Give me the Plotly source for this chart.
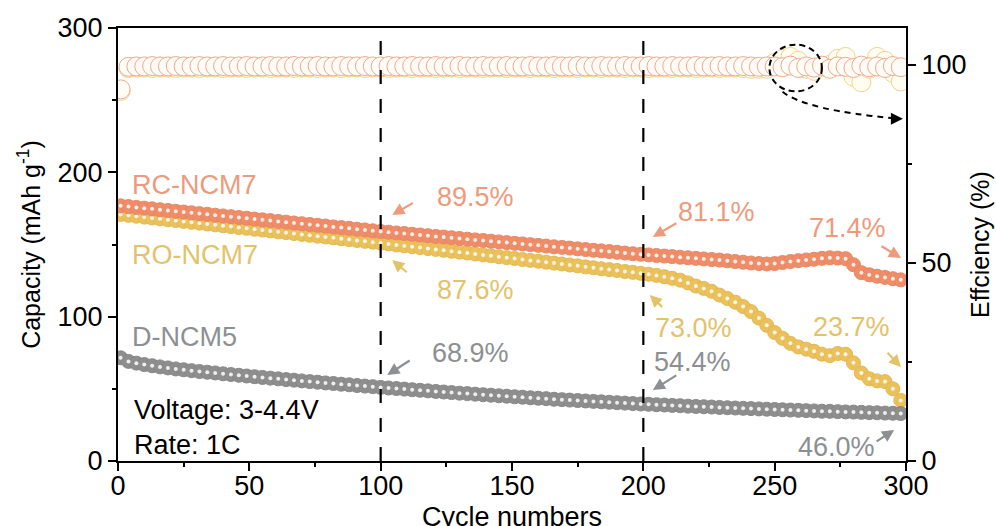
import plotly.graph_objects as go

# ---------------- data ----------------
CYCLES = list(range(1, 300, 3))  # 1, 4, 7, ..., 298

RC_NCM7 = [
    176.8, 176.3, 175.7, 175.2, 174.7, 174.1, 173.6, 173.0, 172.5, 172.0,
    171.4, 170.9, 170.3, 169.8, 169.3, 168.7, 168.2, 167.6, 167.1, 166.6,
    166.0, 165.5, 164.9, 164.4, 163.9, 163.3, 162.8, 162.2, 161.7, 161.2,
    160.6, 160.1, 159.5, 159.0, 158.5, 158.0, 157.6, 157.1, 156.6, 156.1,
    155.6, 155.2, 154.7, 154.2, 153.7, 153.2, 152.8, 152.3, 151.8, 151.3,
    150.8, 150.4, 149.9, 149.4, 148.9, 148.4, 148.0, 147.5, 147.0, 146.5,
    146.0, 145.6, 145.1, 144.6, 144.1, 143.6, 143.2, 142.8, 142.4, 142.0,
    141.6, 141.2, 140.8, 140.4, 140.0, 139.6, 139.2, 138.7, 138.2, 137.7,
    137.2, 136.8, 136.5, 136.8, 137.5, 138.2, 138.8, 139.3, 139.8, 140.4,
    140.8, 140.6, 140.2, 136.0, 130.5, 129.0, 128.0, 127.2, 126.3, 125.5,
]

RO_NCM7 = [
    170.8, 170.2, 169.6, 169.0, 168.4, 167.8, 167.2, 166.6, 166.0, 165.4,
    164.8, 164.2, 163.6, 163.0, 162.4, 161.8, 161.2, 160.6, 160.0, 159.4,
    158.8, 158.2, 157.6, 157.0, 156.4, 155.8, 155.2, 154.6, 154.0, 153.4,
    152.8, 152.2, 151.6, 151.0, 150.4, 149.7, 149.1, 148.5, 147.9, 147.2,
    146.6, 146.0, 145.3, 144.7, 144.1, 143.4, 142.8, 142.2, 141.5, 140.9,
    140.3, 139.6, 139.0, 138.4, 137.7, 137.1, 136.5, 135.8, 135.2, 134.5,
    133.9, 133.2, 132.6, 132.0, 131.3, 130.7, 130.0, 129.4, 128.6, 127.7,
    126.6, 125.3, 123.4, 121.2, 119.6, 117.6, 115.0, 112.6, 110.0, 107.0,
    103.5, 99.0, 94.0, 89.0, 85.0, 81.5, 79.0, 77.5, 76.0, 74.0,
    73.0, 74.5, 74.0, 68.0, 61.0, 57.0, 55.5, 55.0, 50.0, 42.0,
]

D_NCM5 = [
    71.5, 69.0, 67.8, 66.8, 66.0, 65.2, 64.5, 63.8, 63.2, 62.6,
    62.0, 61.5, 61.0, 60.4, 59.9, 59.4, 58.9, 58.4, 57.9, 57.4,
    56.9, 56.4, 56.0, 55.5, 55.0, 54.6, 54.1, 53.7, 53.2, 52.8,
    52.3, 51.9, 51.5, 51.0, 50.6, 50.2, 49.8, 49.4, 49.0, 48.6,
    48.2, 47.8, 47.4, 47.0, 46.7, 46.3, 45.9, 45.6, 45.2, 44.9,
    44.5, 44.2, 43.8, 43.5, 43.2, 42.8, 42.5, 42.2, 41.9, 41.6,
    41.3, 41.0, 40.7, 40.4, 40.1, 39.8, 39.5, 39.3, 39.0, 38.8,
    38.5, 38.3, 38.0, 37.8, 37.6, 37.4, 37.1, 36.9, 36.7, 36.5,
    36.3, 36.1, 35.9, 35.7, 35.5, 35.3, 35.1, 34.9, 34.7, 34.5,
    34.4, 34.2, 34.0, 33.9, 33.7, 33.5, 33.4, 33.2, 33.1, 32.9,
]

EFF_RC = [
    93.8, 99.5, 99.6, 99.6, 99.7, 99.6, 99.6, 99.7, 99.6, 99.6,
    99.7, 99.6, 99.6, 99.7, 99.6, 99.6, 99.7, 99.6, 99.6, 99.7,
    99.6, 99.6, 99.7, 99.6, 99.6, 99.7, 99.6, 99.6, 99.7, 99.6,
    99.6, 99.7, 99.6, 99.6, 99.7, 99.6, 99.6, 99.7, 99.6, 99.6,
    99.7, 99.6, 99.6, 99.7, 99.6, 99.6, 99.7, 99.6, 99.6, 99.7,
    99.6, 99.6, 99.7, 99.6, 99.6, 99.7, 99.6, 99.6, 99.7, 99.6,
    99.6, 99.7, 99.6, 99.6, 99.7, 99.6, 99.6, 99.7, 99.6, 99.6,
    99.7, 99.6, 99.6, 99.7, 99.6, 99.6, 99.7, 99.6, 99.6, 99.7,
    99.6, 99.5, 99.6, 99.6, 99.4, 99.8, 99.2, 99.6, 99.3, 99.8,
    99.0, 99.6, 99.5, 99.2, 99.8, 99.4, 99.6, 99.2, 99.7, 99.4,
]

EFF_RO = [
    93.4, 99.2, 99.3, 99.3, 99.2, 99.3, 99.3, 99.2, 99.3, 99.3,
    99.2, 99.3, 99.3, 99.2, 99.3, 99.3, 99.2, 99.3, 99.3, 99.2,
    99.3, 99.3, 99.2, 99.3, 99.3, 99.2, 99.3, 99.3, 99.2, 99.3,
    99.3, 99.2, 99.3, 99.3, 99.2, 99.3, 99.3, 99.2, 99.3, 99.3,
    99.2, 99.3, 99.3, 99.2, 99.3, 99.3, 99.2, 99.3, 99.3, 99.2,
    99.3, 99.3, 99.2, 99.3, 99.3, 99.2, 99.3, 99.3, 99.2, 99.3,
    99.3, 99.2, 99.3, 99.3, 99.2, 99.3, 99.3, 99.2, 99.3, 99.3,
    99.2, 99.3, 99.3, 99.2, 99.3, 99.3, 99.2, 99.3, 99.3, 99.2,
    99.0, 99.0, 99.0, 100.5, 101.5, 102.0, 101.0, 99.0, 98.5, 99.5,
    100.0, 101.5, 102.0, 97.0, 95.6, 99.0, 102.0, 101.0, 98.0, 95.8,
]

SERIES_LABELS = ["RC-NCM7", "RO-NCM7", "D-NCM5"]
RETENTION_TEXT = ["89.5%", "87.6%", "81.1%", "71.4%", "73.0%", "23.7%",
                  "68.9%", "54.4%", "46.0%"]
X_TICKS = [0, 50, 100, 150, 200, 250, 300]
Y_TICKS = [0, 100, 200, 300]
Y2_TICKS = [0, 50, 100]

# ---------------- styling ----------------
FONT = "Liberation Sans, Arial, sans-serif"
C_RC = "#EF8D69"
C_RC_EDGE = "#EA8562"
C_RO = "#EBC15C"
C_RO_EDGE = "#E4B852"
C_D = "#8E8E8E"
C_D_EDGE = "#878787"
T_RC = "#EE9A7C"
T_RO = "#E3C26A"
T_D = "#8C9092"

fig = go.Figure()

# efficiency (open circles, right axis)
fig.add_trace(go.Scatter(
    x=CYCLES, y=EFF_RO, mode="markers", yaxis="y2",
    marker=dict(symbol="circle", size=19, color="#FFFDF2",
                line=dict(color="#F0D38C", width=1)),
    hoverinfo="skip", showlegend=False))
fig.add_trace(go.Scatter(
    x=CYCLES, y=EFF_RC, mode="markers", yaxis="y2",
    marker=dict(symbol="circle", size=19, color="#FFFBF7",
                line=dict(color="#F0A98C", width=1)),
    hoverinfo="skip", showlegend=False))

# capacities (filled spheres, left axis)
for vals, col, edge in [(RO_NCM7, C_RO, C_RO_EDGE),
                        (RC_NCM7, C_RC, C_RC_EDGE),
                        (D_NCM5, C_D, C_D_EDGE)]:
    fig.add_trace(go.Scatter(
        x=CYCLES, y=vals, mode="markers",
        marker=dict(symbol="circle", size=14, color=col,
                    line=dict(color=edge, width=1)),
        hoverinfo="skip", showlegend=False))
    fig.add_trace(go.Scatter(
        x=CYCLES, y=vals, mode="markers",
        marker=dict(symbol="circle", size=4, color="rgba(255,255,255,0.85)",
                    line=dict(width=0)),
        hoverinfo="skip", showlegend=False))

# ---------------- axes ----------------
axis_common = dict(
    showline=True, linecolor="black", linewidth=2,
    ticks="outside", ticklen=8, tickwidth=2, tickcolor="black",
    tickfont=dict(family=FONT, size=27, color="black"),
    showgrid=False, zeroline=False,
)
fig.update_layout(
    width=996, height=526,
    margin=dict(l=118, r=90, t=28, b=65),
    paper_bgcolor="white", plot_bgcolor="white",
    font=dict(family=FONT, size=27, color="black"),
    xaxis=dict(range=[0, 300], tickvals=X_TICKS, mirror=True,
               ticklabelstandoff=-8,
               minor=dict(tickvals=[25, 75, 125, 175, 225, 275], ticklen=4,
                          tickwidth=2, ticks="outside", tickcolor="black"),
               automargin=False, **axis_common),
    yaxis=dict(range=[0, 300], tickvals=Y_TICKS,
               minor=dict(tickvals=[50, 150, 250], ticklen=4, tickwidth=2,
                          ticks="outside", tickcolor="black"),
               title=dict(text="Capacity (mAh g<sup>-1</sup>)", standoff=10,
                          font=dict(family=FONT, size=25)),
               automargin=False, **axis_common),
    yaxis2=dict(range=[0, 109.3], tickvals=Y2_TICKS, overlaying="y",
                side="right", anchor="x",
                minor=dict(tickvals=[25, 75], ticklen=4, tickwidth=2,
                           ticks="outside", tickcolor="black"),
                title=dict(text="Effciency (%)", standoff=6,
                           font=dict(family=FONT, size=25)),
                automargin=False, **axis_common),
    showlegend=False,
)

# x-axis title (placed explicitly, partially cut at the bottom like the original)
fig.add_annotation(x=0.5, y=-0.13, xref="paper", yref="paper",
                   text="Cycle numbers", showarrow=False,
                   xanchor="center", yanchor="middle",
                   font=dict(family=FONT, size=27, color="black"))

# dashed vertical guides
for xv in [100, 200]:
    fig.add_shape(type="line", xref="x", yref="paper", x0=xv, x1=xv, y0=0, y1=1,
                  line=dict(color="black", width=2.2, dash="14px,15px"), layer="above")

# dashed ellipse and curved dashed arrow
fig.add_shape(type="circle", xref="x", yref="y2", x0=248, x1=268, y0=93.3, y1=105.1,
              line=dict(color="black", width=2, dash="6px,4px"), layer="above")
fig.add_shape(type="path", xref="x", yref="y2",
              path="M 253,93.2 Q 262,88.5 296,86.5",
              line=dict(color="black", width=2, dash="6px,5px"), layer="above")
fig.add_annotation(x=298.8, y=86.4, xref="x", yref="y2", ax=-9, ay=0,
                   showarrow=True, arrowhead=2, arrowsize=1.2, arrowwidth=2,
                   arrowcolor="black", text=" ")

# series labels
label_pos = [(4.5, 191, T_RC), (4.5, 143, T_RO), (4.5, 86, T_D)]
for txt, (lx, ly, col) in zip(SERIES_LABELS, label_pos):
    fig.add_annotation(x=lx, y=ly, xref="x", yref="y", text=txt, showarrow=False,
                       xanchor="left", yanchor="middle",
                       font=dict(family=FONT, size=27, color=col))

fig.add_annotation(x=5.5, y=35.5, xref="x", yref="y", text="Voltage: 3-4.4V",
                   showarrow=False, xanchor="left", yanchor="middle",
                   font=dict(family=FONT, size=27, color="black"))
fig.add_annotation(x=5.5, y=11, xref="x", yref="y", text="Rate: 1C",
                   showarrow=False, xanchor="left", yanchor="middle",
                   font=dict(family=FONT, size=27, color="black"))

# retention labels with arrows
ret = [
    # text pos, arrow head, tail offset, colour
    ((136.0, 183.0), (104.4, 170.5), (26, -15), T_RC),
    ((136.0, 118.5), (104.4, 139.3), (20, 17), T_RO),
    ((227.9, 172.6), (203.6, 155.2), (29, -17), T_RC),
    ((277.6, 161.5), (298.1, 140.7), (-25, -15), T_RC),
    ((219.1, 92.2), (202.4, 115.0), (18, 17), T_RO),
    ((279.1, 92.9), (298.1, 65.1), (-19, -20), T_RO),
    ((134.1, 74.8), (102.5, 59.6), (28, -18), T_D),
    ((218.8, 68.6), (203.6, 49.2), (29, -18), T_D),
    ((273.5, 9.7), (295.5, 21.5), (-23, 15), T_D),
]
for txt, (tp, hp, off, col) in zip(RETENTION_TEXT, ret):
    fig.add_annotation(x=tp[0], y=tp[1], xref="x", yref="y", text=txt,
                       showarrow=False, xanchor="center", yanchor="middle",
                       font=dict(family=FONT, size=27, color=col))
    fig.add_annotation(x=hp[0], y=hp[1], xref="x", yref="y", text=" ",
                       showarrow=True, ax=off[0], ay=off[1],
                       arrowhead=2, arrowsize=1.1, arrowwidth=2.2, arrowcolor=col)

fig.write_html("out.html")
